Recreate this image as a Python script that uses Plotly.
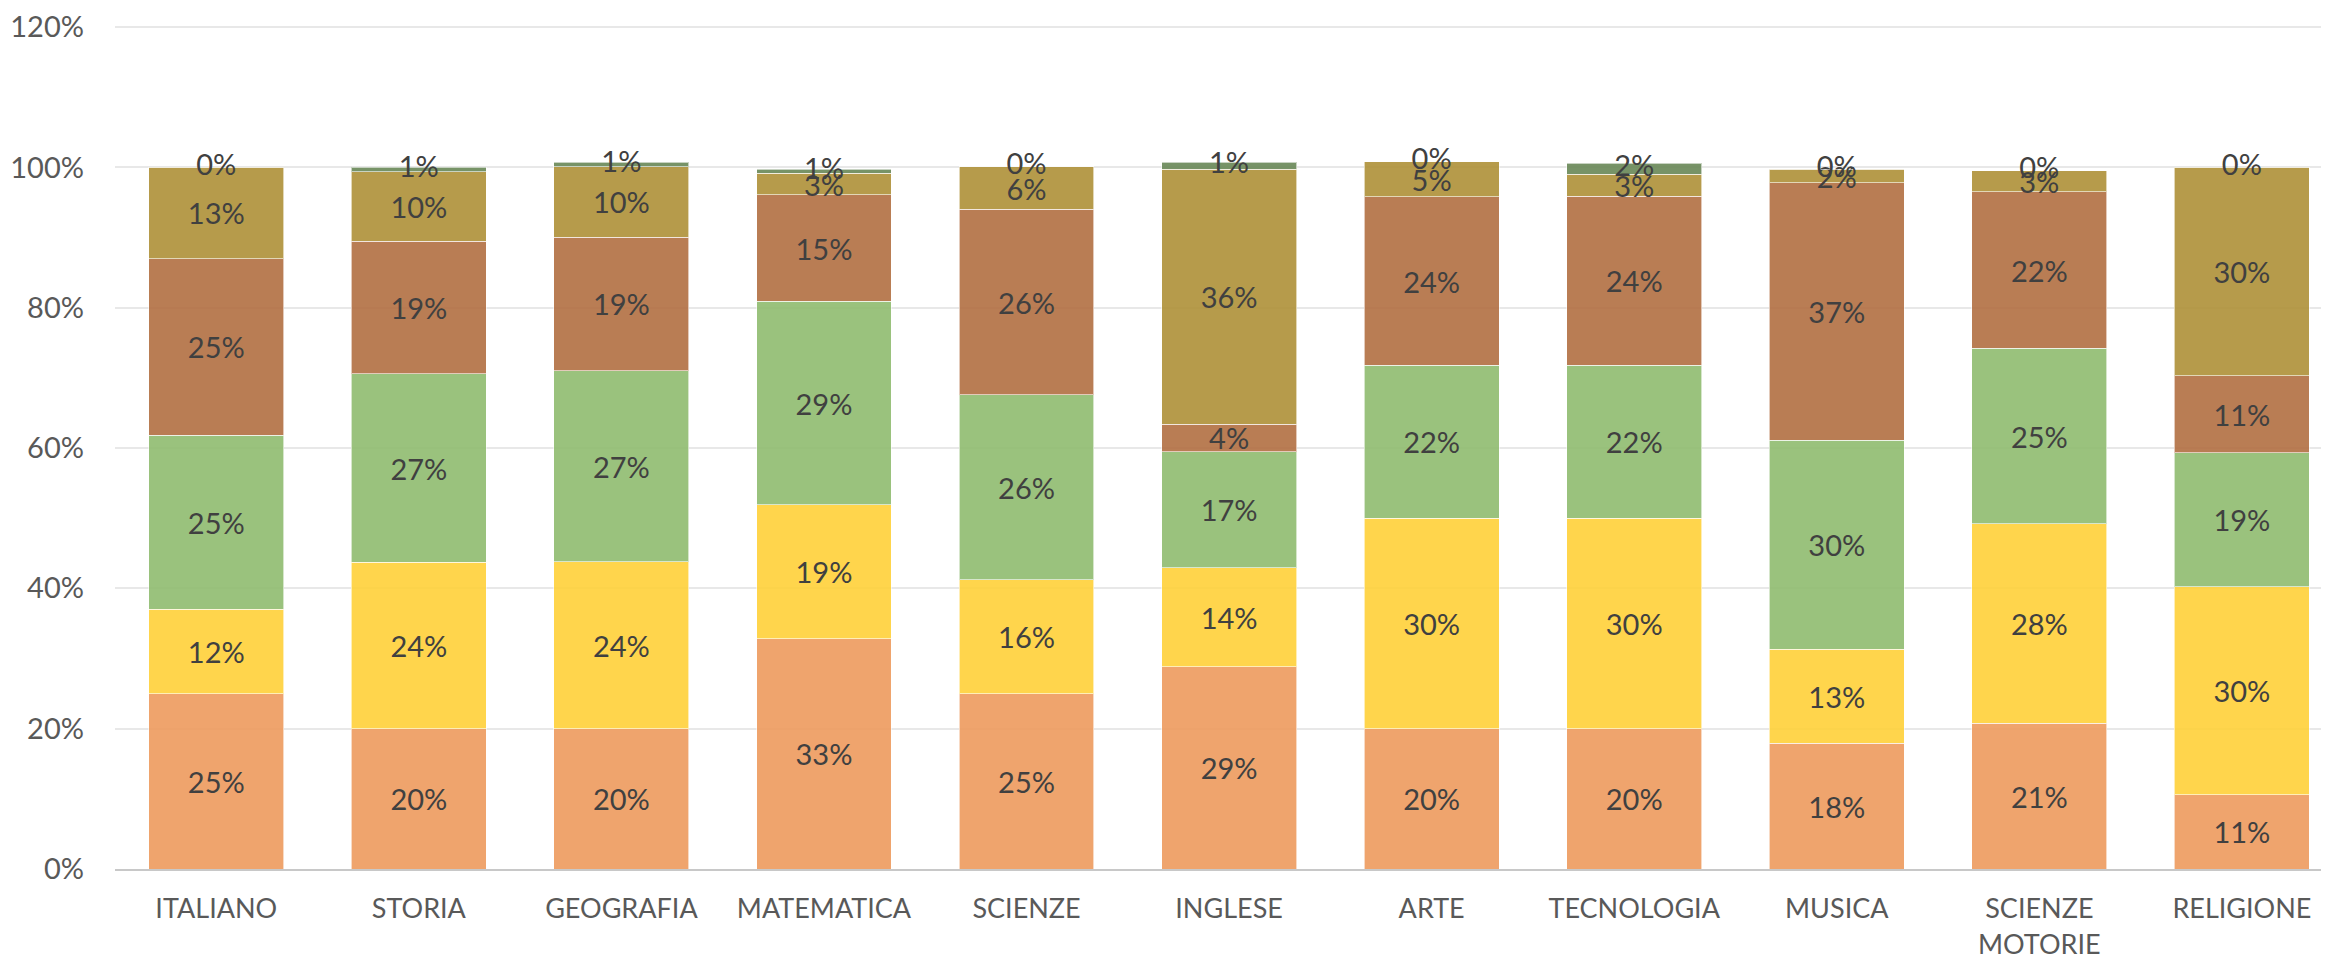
import plotly.graph_objects as go

categories = ["ITALIANO", "STORIA", "GEOGRAFIA", "MATEMATICA", "SCIENZE", "INGLESE",
              "ARTE", "TECNOLOGIA", "MUSICA", "SCIENZE<br>MOTORIE", "RELIGIONE"]

s1_orange = [25, 20, 20, 32.8, 25, 28.8, 20, 20, 17.9, 20.8, 10.6]
s2_yellow = [12, 23.7, 23.8, 19.1, 16.2, 14.1, 30, 30, 13.4, 28.4, 29.6]
s3_green = [24.8, 26.9, 27.2, 29, 26.4, 16.6, 21.8, 21.8, 29.8, 25, 19.1]
s4_brown = [25.2, 18.9, 19.05, 15.2, 26.4, 3.9, 24, 24.1, 36.7, 22.3, 11]
s5_olive = [13, 9.9, 10.05, 3.05, 6.1, 36.3, 5.0, 3.1, 1.9, 3.0, 29.7]
s6_darkgreen = [0, 0.6, 0.6, 0.55, 0, 1.0, 0, 1.6, 0, 0, 0]

y_ticks = [0, 20, 40, 60, 80, 100, 120]
y_tick_labels = ["0%", "20%", "40%", "60%", "80%", "100%", "120%"]

series = [
    ("Serie 1", s1_orange, "rgb(238,155,94)"),
    ("Serie 2", s2_yellow, "rgb(255,209,57)"),
    ("Serie 3", s3_green, "rgb(144,188,112)"),
    ("Serie 4", s4_brown, "rgb(178,111,66)"),
    ("Serie 5", s5_olive, "rgb(175,145,56)"),
    ("Serie 6", s6_darkgreen, "rgb(105,136,87)"),
]

FONT = "Lato"
FS_DATA = 29
FS_X = 27
FS_Y = 29
x_idx = list(range(len(categories)))

fig = go.Figure()
for i, (name, vals, col) in enumerate(series):
    last = i == len(series) - 1
    fig.add_trace(go.Bar(
        x=x_idx, y=vals, name=name,
        marker=dict(color=col, opacity=0.9,
                    line=dict(color="rgba(255,255,255,0.6)", width=1)),
        texttemplate="" if last else "%{y:.0f}%",
        textposition="inside", insidetextanchor="middle", textangle=0,
        textfont=dict(family=FONT, size=FS_DATA, color="#404040"),
        hoverinfo="skip",
    ))

# labels for the top (dark green) series, centered on its segment
tops = [sum(v) for v in zip(s1_orange, s2_yellow, s3_green, s4_brown, s5_olive, s6_darkgreen)]
label_y = [t - d / 2 for t, d in zip(tops, s6_darkgreen)]
fig.add_trace(go.Scatter(
    x=x_idx, y=label_y, mode="text",
    text=[f"{v:.0f}%" for v in s6_darkgreen],
    textposition="middle center",
    textfont=dict(family=FONT, size=FS_DATA, color="#404040"),
    hoverinfo="skip", showlegend=False,
))

fig.update_layout(
    barmode="stack",
    bargap=0.334,
    width=2321, height=957,
    margin=dict(l=107, r=0, t=4, b=96),
    paper_bgcolor="white", plot_bgcolor="white",
    showlegend=False,
    uniformtext=dict(minsize=FS_DATA, mode="show"),
    font=dict(family=FONT, size=FS_X, color="#595959"),
)
fig.update_xaxes(
    tickmode="array", tickvals=x_idx, ticktext=categories,
    range=[-0.5, 10.43],
    showgrid=False, showline=True, linecolor="#C8C8C8", linewidth=2,
    ticks="", ticklabelstandoff=15,
    tickfont=dict(family=FONT, size=FS_X, color="#595959"),
)
fig.update_yaxes(
    range=[0, 121], tickmode="array", tickvals=y_ticks, ticktext=y_tick_labels,
    showgrid=True, gridcolor="#E8E8E8", gridwidth=1.5,
    zeroline=False, showline=False, ticks="", ticklabelstandoff=30,
    ticklabeloverflow="allow",
    tickfont=dict(family=FONT, size=FS_Y, color="#595959"),
)

fig.write_html("out.html")
